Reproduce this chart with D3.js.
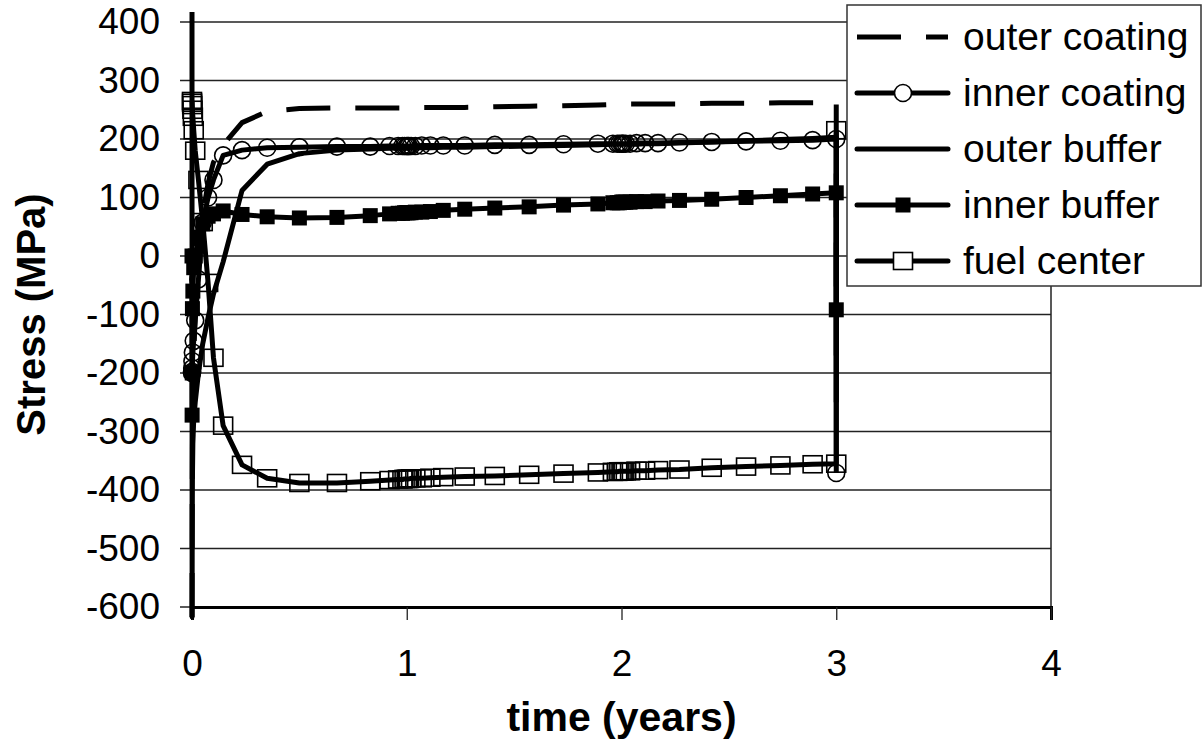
<!DOCTYPE html>
<html>
<head>
<meta charset="utf-8">
<script src="https://cdn.jsdelivr.net/npm/d3@7"></script>
<style>
  body { margin: 0; background: #fff; }
  text { font-family: "Liberation Sans", Arial, sans-serif; fill: #000; }
</style>
</head>
<body>
<div class="chart"></div>
<script>
var svgWidth = 1204;
var svgHeight = 742;

// plot area in pixels
var margin = { top: 22, right: 153, bottom: 135, left: 192 };
var width = svgWidth - margin.left - margin.right;
var height = svgHeight - margin.top - margin.bottom;

// time steps shared by all series (years)
var times = [0, 0.0005, 0.001, 0.002, 0.004, 0.008, 0.015, 0.03, 0.05, 0.075,
  0.1, 0.145, 0.233, 0.35, 0.5, 0.675, 0.83, 0.92, 0.96, 0.98,
  0.99, 1.0, 1.005, 1.01, 1.02, 1.04, 1.07, 1.11, 1.17, 1.27,
  1.41, 1.57, 1.73, 1.89, 1.96, 1.98, 1.99, 2.0, 2.005, 2.01,
  2.02, 2.04, 2.07, 2.11, 2.17, 2.27, 2.42, 2.58, 2.74, 2.89,
  3.0, 3.0001];

// stress values (MPa)
var outerCoating = [-617, -520, -420, -330, -250, -170, -100, -10, 70, 125,
  160, 190, 228, 247, 252, 253, 253, 253, 253, 253,
  253, 254, 254, 254, 254, 254, 254, 254, 254, 254,
  255, 256, 257, 258, 259, 259, 259, 260, 260, 260,
  260, 260, 260, 260, 260, 260, 261, 261, 262, 262,
  262, -175];

var innerCoating = [-200, -198, -192, -180, -165, -145, -110, -40, 57, 100,
  130, 172, 181, 185, 186, 187, 187, 188, 188, 188,
  188, 188, 188, 188, 188, 188, 189, 189, 189, 189,
  190, 190, 191, 192, 192, 192, 192, 192, 192, 192,
  192, 192, 193, 193, 193, 194, 195, 196, 197, 198,
  200, -371];

var outerBuffer = [417, -617, -480, -380, -320, -280, -250, -200, -150, -105,
  -65, -10, 112, 157, 175, 181, 183, 184, 184, 184,
  184, 184, 184, 184, 185, 185, 185, 185, 186, 186,
  187, 188, 189, 190, 191, 191, 191, 191, 191, 191,
  191, 191, 191, 192, 192, 193, 195, 197, 199, 201,
  203, -250];

var innerBuffer = [0, -272, -200, -90, -60, -20, 0, 30, 55, 68,
  72, 77, 71, 67, 65, 66, 69, 72, 73, 73,
  74, 74, 74, 74, 74, 75, 75, 76, 78, 80,
  82, 84, 87, 89, 91, 91, 91, 92, 92, 92,
  92, 92, 93, 93, 94, 95, 97, 100, 103, 106,
  108, -92];

var fuelCenter = [265, 262, 258, 250, 238, 215, 180, 130, 58, -46,
  -174, -290, -357, -380, -388, -388, -385, -383, -382, -382,
  -381, -381, -381, -381, -380, -380, -380, -379, -378, -377,
  -376, -374, -372, -370, -369, -369, -368, -368, -368, -368,
  -368, -368, -367, -367, -366, -365, -362, -360, -358, -356,
  -355, 215];

var seriesNames = ["outer coating", "inner coating", "outer buffer", "inner buffer", "fuel center"];
var seriesValues = [outerCoating, innerCoating, outerBuffer, innerBuffer, fuelCenter];
var seriesMarkers = ["none", "circle", "none", "filledSquare", "openSquare"];

var xTicks = [0, 1, 2, 3, 4];
var yTicks = [-600, -500, -400, -300, -200, -100, 0, 100, 200, 300, 400];

var svg = d3.select(".chart")
  .append("svg")
  .attr("width", svgWidth)
  .attr("height", svgHeight);

var chartGroup = svg.append("g")
  .attr("transform", `translate(${margin.left}, ${margin.top})`);

var xScale = d3.scaleLinear().domain([0, 4]).range([0, width]);
var yScale = d3.scaleLinear().domain([-600, 400]).range([height, 0]);

// gridlines
chartGroup.append("g")
  .selectAll("line")
  .data(yTicks)
  .enter()
  .append("line")
  .attr("x1", -12)
  .attr("x2", width)
  .attr("y1", d => yScale(d))
  .attr("y2", d => yScale(d))
  .attr("stroke", "#222")
  .attr("stroke-width", 1.3);

// right border of plot area
chartGroup.append("line")
  .attr("x1", width).attr("x2", width)
  .attr("y1", 0).attr("y2", height)
  .attr("stroke", "#222")
  .attr("stroke-width", 1.5);

// x axis
var bottomAxis = d3.axisBottom(xScale)
  .tickValues(xTicks)
  .tickSize(13)
  .tickPadding(30)
  .tickFormat(d => String(d));

var xAxis = chartGroup.append("g")
  .attr("transform", `translate(0, ${height})`)
  .call(bottomAxis);
xAxis.select(".domain").attr("stroke", "#000").attr("stroke-width", 3);
xAxis.selectAll(".tick line").attr("stroke", "#222").attr("stroke-width", 1.3);
xAxis.selectAll("text").attr("font-size", 37).attr("font-family", "Liberation Sans, Arial, sans-serif");

// y axis, hyphen minus like the original
var leftAxis = d3.axisLeft(yScale)
  .tickValues(yTicks)
  .tickSize(0)
  .tickPadding(32)
  .tickFormat(d => String(d));

var yAxis = chartGroup.append("g").call(leftAxis);
yAxis.select(".domain").attr("stroke", "#000").attr("stroke-width", 3);
yAxis.selectAll("text").attr("font-size", 37).attr("font-family", "Liberation Sans, Arial, sans-serif");

// series lines
var line = d3.line()
  .x((d, i) => xScale(times[i]))
  .y(d => yScale(d));

seriesValues.forEach(function(values, s) {
  chartGroup.append("path")
    .datum(values)
    .attr("d", line)
    .attr("fill", "none")
    .attr("stroke", "#000")
    .attr("stroke-width", 5)
    .attr("stroke-linejoin", "round")
    .attr("stroke-dasharray", s === 0 ? "44,25" : null);

  var marker = seriesMarkers[s];
  if (marker === "circle") {
    chartGroup.append("g")
      .selectAll("circle")
      .data(values)
      .enter()
      .append("circle")
      .attr("cx", (d, i) => xScale(times[i]))
      .attr("cy", d => yScale(d))
      .attr("r", 8.5)
      .attr("fill", "none")
      .attr("stroke", "#000")
      .attr("stroke-width", 1.6);
  } else if (marker === "filledSquare") {
    chartGroup.append("g")
      .selectAll("rect")
      .data(values)
      .enter()
      .append("rect")
      .attr("x", (d, i) => xScale(times[i]) - 7.5)
      .attr("y", d => yScale(d) - 7.5)
      .attr("width", 15)
      .attr("height", 15)
      .attr("fill", "#000");
  } else if (marker === "openSquare") {
    chartGroup.append("g")
      .selectAll("rect")
      .data(values)
      .enter()
      .append("rect")
      .attr("x", (d, i) => xScale(times[i]) - 9.5)
      .attr("y", d => yScale(d) - 8.5)
      .attr("width", 19)
      .attr("height", 17)
      .attr("fill", "none")
      .attr("stroke", "#000")
      .attr("stroke-width", 1.6);
  }
});

// axis titles
svg.append("text")
  .attr("x", margin.left + width / 2)
  .attr("y", 731)
  .attr("text-anchor", "middle")
  .attr("font-size", 41)
  .attr("font-weight", "bold")
  .text("time (years)");

svg.append("text")
  .attr("transform", `translate(45, ${margin.top + height / 2}) rotate(-90)`)
  .attr("text-anchor", "middle")
  .attr("font-size", 40)
  .attr("font-weight", "bold")
  .text("Stress (MPa)");

// legend
var legend = svg.append("g").attr("transform", "translate(847, 5)");
legend.append("rect")
  .attr("width", 354)
  .attr("height", 281)
  .attr("fill", "#fff")
  .attr("stroke", "#333")
  .attr("stroke-width", 1.5);

seriesNames.forEach(function(name, s) {
  var cy = 32 + s * 56;
  legend.append("line")
    .attr("x1", 10).attr("x2", 101)
    .attr("y1", cy).attr("y2", cy)
    .attr("stroke", "#000")
    .attr("stroke-width", 5)
    .attr("stroke-linecap", s === 0 ? "butt" : "round")
    .attr("stroke-dasharray", s === 0 ? "44,25" : null);

  var marker = seriesMarkers[s];
  if (marker === "circle") {
    legend.append("circle")
      .attr("cx", 56).attr("cy", cy).attr("r", 8.5)
      .attr("fill", "#fff").attr("stroke", "#000").attr("stroke-width", 1.6);
  } else if (marker === "filledSquare") {
    legend.append("rect")
      .attr("x", 48.5).attr("y", cy - 7.5).attr("width", 15).attr("height", 15)
      .attr("fill", "#000");
  } else if (marker === "openSquare") {
    legend.append("rect")
      .attr("x", 46.5).attr("y", cy - 8.5).attr("width", 19).attr("height", 17)
      .attr("fill", "#fff").attr("stroke", "#000").attr("stroke-width", 1.6);
  }

  legend.append("text")
    .attr("x", 116)
    .attr("y", cy + 13)
    .attr("font-size", 39)
    .text(name);
});
</script>
</body>
</html>
